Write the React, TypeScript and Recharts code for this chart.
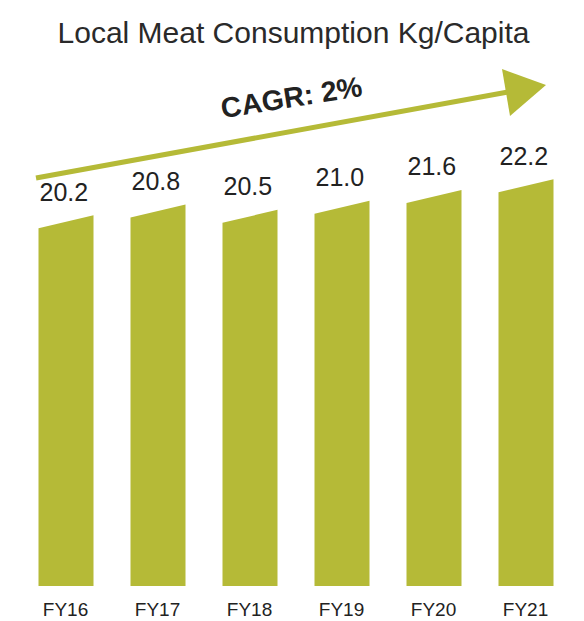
import React from 'react';
import { BarChart, Bar, XAxis, YAxis, LabelList } from 'recharts';

const years = ['FY16', 'FY17', 'FY18', 'FY19', 'FY20', 'FY21'];
const consumption = [20.2, 20.8, 20.5, 21.0, 21.6, 22.2];
const valueLabels = ['20.2', '20.8', '20.5', '21.0', '21.6', '22.2'];

const title = 'Local Meat Consumption Kg/Capita';
const cagrLabel = 'CAGR: 2%';

const data = years.map((year, i) => ({
  year,
  value: consumption[i],
  label: valueLabels[i],
}));

const OLIVE = '#b5ba37';
const TEXT = '#222222';
const FONT = '"Liberation Sans", Arial, Helvetica, sans-serif';

// bar with a top edge that leans up to the right
const SlantBar = (props: any) => {
  const { x, y, width, height } = props;
  const bottom = y + height;
  const lean = 6.5;
  const points = [
    `${x},${bottom}`,
    `${x},${y + lean}`,
    `${x + width},${y - lean}`,
    `${x + width},${bottom}`,
  ].join(' ');
  return <polygon points={points} fill={OLIVE} />;
};

const ValueLabel = (props: any) => {
  const { x, y, value } = props;
  return (
    <text x={x + 1} y={y - 21} textAnchor="start" fontSize={25} fill={TEXT} fontFamily={FONT}>
      {value}
    </text>
  );
};

const YearTick = (props: any) => {
  const { x, y, payload } = props;
  return (
    <text x={x} y={y} dy={30} textAnchor="middle" fontSize={19} fill={TEXT} fontFamily={FONT}>
      {payload.value}
    </text>
  );
};

export default function App() {
  return (
    <div style={{ position: 'absolute', left: 0, top: 0, width: 584, height: 621, background: '#fff' }}>
      <BarChart
        width={584}
        height={621}
        data={data}
        margin={{ top: 45, right: 12.5, bottom: 0, left: 19.5 }}
      >
        <XAxis
          dataKey="year"
          axisLine={false}
          tickLine={false}
          tickSize={0}
          tickMargin={0}
          height={35}
          tick={<YearTick />}
          interval={0}
        />
        <YAxis hide domain={[0, 30]} />
        <Bar dataKey="value" barSize={55} shape={<SlantBar />} isAnimationActive={false}>
          <LabelList dataKey="label" content={<ValueLabel />} />
        </Bar>
      </BarChart>

      {/* title, growth arrow and CAGR note */}
      <svg
        width={584}
        height={621}
        style={{ position: 'absolute', left: 0, top: 0, pointerEvents: 'none' }}
      >
        <text x={293.5} y={43} textAnchor="middle" fontSize={30} fill="#2a2a2a" fontFamily={FONT}>
          {title}
        </text>
        <line x1={36} y1={178} x2={508} y2={92} stroke={OLIVE} strokeWidth={5} />
        <polygon points="546,85 502,69 510,116" fill={OLIVE} />
        <text
          x={293}
          y={107}
          textAnchor="middle"
          fontSize={28.5}
          fontWeight="bold"
          fill={TEXT}
          fontFamily={FONT}
          transform="rotate(-9 293 107)"
        >
          {cagrLabel}
        </text>
      </svg>
    </div>
  );
}
